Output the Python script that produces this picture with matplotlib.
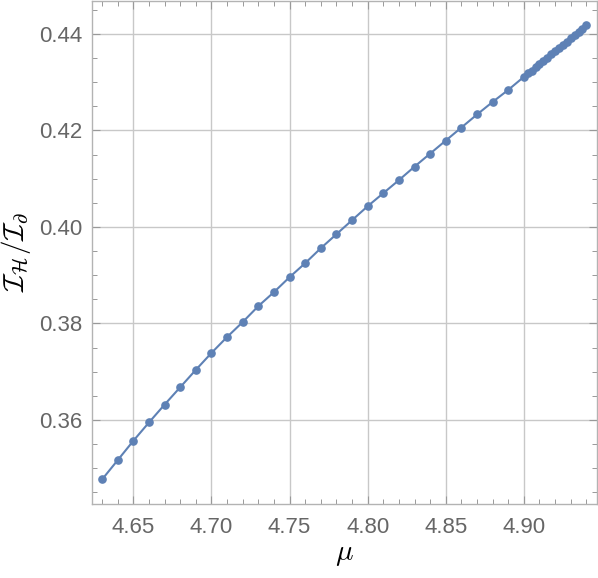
#!/usr/bin/env python3
"""I_H / I_d against mu, Mathematica-style frame plot."""
import numpy as np
import matplotlib
matplotlib.use('Agg')
import matplotlib.pyplot as plt
from matplotlib.ticker import MultipleLocator, FormatStrFormatter

plt.rcParams['mathtext.fontset'] = 'cm'
plt.rcParams['font.family'] = ['Liberation Sans', 'DejaVu Sans']

# coarse scan, step 0.01
mu_coarse = [4.63, 4.64, 4.65, 4.66, 4.67, 4.68, 4.69, 4.70, 4.71, 4.72,
             4.73, 4.74, 4.75, 4.76, 4.77, 4.78, 4.79, 4.80, 4.81, 4.82,
             4.83, 4.84, 4.85, 4.86, 4.87, 4.88, 4.89]
ratio_coarse = [0.3477, 0.3517, 0.3557, 0.3595, 0.3632, 0.3668, 0.3704, 0.3739,
                0.3772, 0.3803, 0.3836, 0.3865, 0.3896, 0.3925, 0.3956, 0.3985,
                0.4014, 0.4043, 0.4070, 0.4097, 0.4125, 0.4152, 0.4179, 0.4206,
                0.4233, 0.4259, 0.4284]
# fine scan near the end, step 0.0025
mu_fine = [4.9000, 4.9025, 4.9050, 4.9075, 4.9100, 4.9125, 4.9150, 4.9175, 4.9200,
           4.9225, 4.9250, 4.9275, 4.9300, 4.9325, 4.9350, 4.9375, 4.9400]
ratio_fine = [0.4311, 0.4318, 0.4324, 0.4331, 0.4338, 0.4344, 0.4351, 0.4358, 0.4364,
              0.4371, 0.4378, 0.4384, 0.4391, 0.4398, 0.4404, 0.4411, 0.4418]

mu = np.array(mu_coarse + mu_fine)
ratio = np.array(ratio_coarse + ratio_fine)

col = '#5E81B5'
fig = plt.figure(figsize=(5.98, 5.78), dpi=100)
ax = fig.add_axes([0.1538, 0.128, 0.8445, 0.871])

ax.plot(mu, ratio, '-', color=col, lw=1.5, marker='o', ms=5.2, mfc=col, mec=col)

ax.set_xlim(4.6235, 4.9468)
ax.set_ylim(0.3426, 0.4469)
ax.xaxis.set_major_locator(MultipleLocator(0.05))
ax.xaxis.set_minor_locator(MultipleLocator(0.01))
ax.yaxis.set_major_locator(MultipleLocator(0.02))
ax.yaxis.set_minor_locator(MultipleLocator(0.005))
ax.xaxis.set_major_formatter(FormatStrFormatter('%.2f'))
ax.yaxis.set_major_formatter(FormatStrFormatter('%.2f'))

ax.grid(True, which='major', color='#c8c8c8', lw=1.0)
for s in ax.spines.values():
    s.set_color('#b3b3b3'); s.set_linewidth(1.0)
ax.tick_params(which='both', direction='in', top=True, right=True,
               color='#999999', labelcolor='#666666', labelsize=16)
ax.tick_params(axis='x', pad=9)
ax.tick_params(axis='y', pad=7)
ax.tick_params(which='major', length=6, width=0.8)
ax.tick_params(which='minor', length=3.5, width=0.7)

ax.set_xlabel(r'$\mu$', fontsize=21, labelpad=2)
ax.set_ylabel(r'$\mathcal{I}_\mathcal{H}/\mathcal{I}_\partial$', fontsize=21, labelpad=4)

plt.savefig('out.png', dpi=100)
plt.close()
